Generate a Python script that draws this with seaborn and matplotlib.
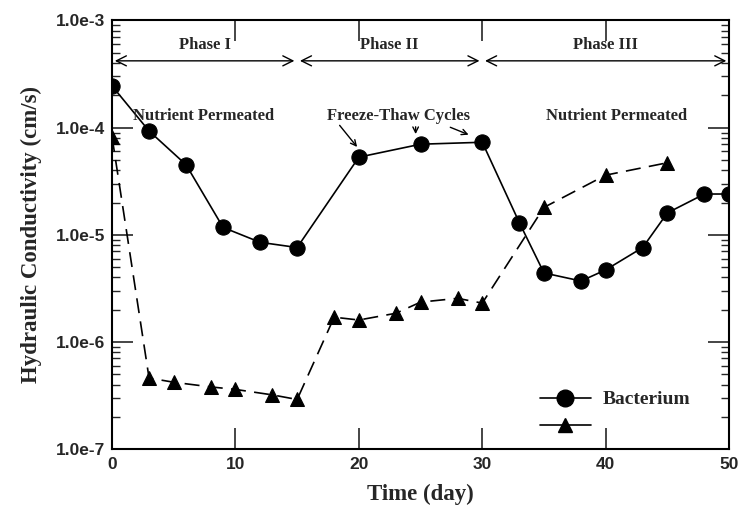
import numpy as np
import pandas as pd
import seaborn as sns
import matplotlib.pyplot as plt
from matplotlib.lines import Line2D

# circles (Bacterium)
days_bact = [0, 3, 6, 9, 12, 15, 20, 25, 30, 33, 35, 38, 40, 43, 45, 48, 50]
k_bact = [2.45e-4, 9.3e-5, 4.5e-5, 1.17e-5, 8.5e-6, 7.6e-6, 5.3e-5, 7.0e-5, 7.3e-5,
          1.3e-5, 4.4e-6, 3.7e-6, 4.7e-6, 7.6e-6, 1.6e-5, 2.4e-5, 2.4e-5]

# triangles (second series, no label in legend)
days_tri = [0, 3, 5, 8, 10, 13, 15, 18, 20, 23, 25, 28, 30, 35, 40, 45]
k_tri = [8.2e-5, 4.6e-7, 4.2e-7, 3.8e-7, 3.6e-7, 3.2e-7, 2.9e-7, 1.7e-6, 1.6e-6,
         1.85e-6, 2.35e-6, 2.55e-6, 2.3e-6, 1.8e-5, 3.6e-5, 4.7e-5]

phase_names = ["Phase I", "Phase II", "Phase III"]
phase_bounds = [0, 15, 30, 50]

df_b = pd.DataFrame({"day": days_bact, "k": k_bact})
df_t = pd.DataFrame({"day": days_tri, "k": k_tri})

sns.set_style("ticks")
serif = ["Liberation Serif", "DejaVu Serif"]
sans = ["Liberation Sans", "DejaVu Sans"]

fig = plt.figure(figsize=(7.39, 5.12), dpi=100)
ax = fig.add_axes([0.1516, 0.123, 0.835, 0.837])

sns.lineplot(data=df_b, x="day", y="k", ax=ax, color="black", lw=1.2,
             marker="o", markersize=11, markeredgecolor="black")
sns.lineplot(data=df_t, x="day", y="k", ax=ax, color="black", lw=1.2,
             marker="^", markersize=10, markeredgecolor="black", dashes=False)
ax.lines[-1].set_dashes([9, 5])

ax.set_yscale("log")
ax.set_xlim(0, 50)
ax.set_ylim(1e-7, 1e-3)
ax.set_xticks([0, 10, 20, 30, 40, 50])
ax.set_yticks([1e-7, 1e-6, 1e-5, 1e-4, 1e-3])
ax.set_yticklabels(["1.0e-7", "1.0e-6", "1.0e-5", "1.0e-4", "1.0e-3"])
for lab in ax.get_xticklabels() + ax.get_yticklabels():
    lab.set_family(sans)
    lab.set_fontweight("bold")
    lab.set_fontsize(12.5)
ax.tick_params(which="major", direction="in", length=15, width=1.2, top=True, right=True)
ax.tick_params(which="minor", direction="in", length=6, width=1, top=False, right=True, left=True)
ax.tick_params(axis="x", which="major", pad=6)
ax.tick_params(axis="y", which="major", pad=5)
for s in ax.spines.values():
    s.set_linewidth(1.5)
    s.set_color("black")

ax.set_xlabel("Time (day)", family=serif, fontweight="bold", fontsize=16.5, labelpad=8)
ax.set_ylabel("Hydraulic Conductivity (cm/s)", family=serif, fontweight="bold",
              fontsize=16.5, labelpad=10)

# phase arrows
for name, a, b in zip(phase_names, phase_bounds[:-1], phase_bounds[1:]):
    ax.annotate("", xy=(a, 4.2e-4), xytext=(b, 4.2e-4),
                arrowprops=dict(arrowstyle="<->", color="black", lw=1, mutation_scale=18))
    ax.text((a + b) / 2, 5.9e-4, name, ha="center", va="center",
            family=serif, fontweight="bold", fontsize=12)

ax.text(7.4, 1.28e-4, "Nutrient Permeated", ha="center", va="center",
        family=serif, fontweight="bold", fontsize=12)
ax.text(40.9, 1.28e-4, "Nutrient Permeated", ha="center", va="center",
        family=serif, fontweight="bold", fontsize=12)
ax.text(23.2, 1.28e-4, "Freeze-Thaw Cycles", ha="center", va="center",
        family=serif, fontweight="bold", fontsize=12)
arrow_kw = dict(arrowstyle="->", color="black", lw=1)
ax.annotate("", xy=(20, 6.3e-5), xytext=(18.3, 1.1e-4), arrowprops=arrow_kw)
ax.annotate("", xy=(24.6, 8.2e-5), xytext=(24.6, 1.08e-4), arrowprops=arrow_kw)
ax.annotate("", xy=(29.1, 8.4e-5), xytext=(27.2, 1.03e-4), arrowprops=arrow_kw)

handles = [Line2D([], [], color="black", marker="o", markersize=12, lw=1.2),
           Line2D([], [], color="black", marker="^", markersize=10, lw=1.2)]
ax.legend(handles, ["Bacterium", ""], loc="lower right", bbox_to_anchor=(0.965, -0.01),
          frameon=False, handlelength=2.6, handletextpad=0.6,
          prop={"family": serif, "weight": "bold", "size": 14})

fig.savefig("out.png", dpi=100)
